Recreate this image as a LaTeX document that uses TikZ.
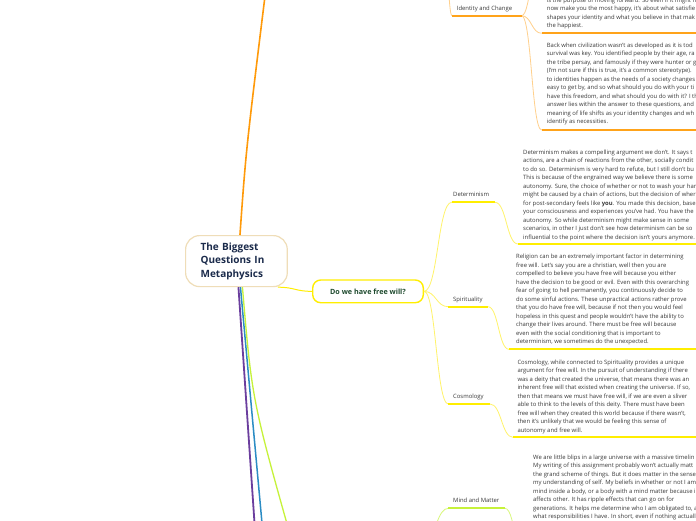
\documentclass[tikz,border=0pt]{standalone}
\usepackage{fontspec}
\setmainfont{Open Sans}
\usetikzlibrary{calc}
\definecolor{txt}{HTML}{3A3A3A}
\definecolor{navy}{HTML}{1B2B4B}
\definecolor{fwtxt}{HTML}{1E4A2E}
\definecolor{cbord}{HTML}{EFDDB8}
\definecolor{orgm}{HTML}{FF9A0A}
\definecolor{orgu}{HTML}{FFA31A}
\definecolor{orgc}{HTML}{FFD08C}
\definecolor{yelm}{HTML}{FFEE00}
\definecolor{yelc}{HTML}{FFF36A}
\definecolor{limem}{HTML}{C6F23A}
\definecolor{limec}{HTML}{D9F77E}
\definecolor{purp}{HTML}{6B3E9E}
\definecolor{blu}{HTML}{2B8CC4}
\newcommand{\blk}[1]{\vtop{\fontsize{5.9}{8.5}\selectfont\halign{##\hfil\cr#1\crcr}}}
\tikzset{
  sc/.style={to path={.. controls ($(\tikztostart)!0.5!(\tikztostart -| \tikztotarget)$) and ($(\tikztotarget)!0.5!(\tikztotarget -| \tikztostart)$) .. (\tikztotarget)}},
  tb/.style={anchor=base west, inner sep=0pt, text=txt},
  lab/.style={anchor=base west, inner sep=0pt, text=txt, font=\fontsize{5.9}{7}\selectfont},
  ocon/.style={draw=orgc, line width=0.8pt},
  oul/.style={draw=orgu, line width=1.8pt},
  ycon/.style={draw=yelc, line width=0.8pt},
  yul/.style={draw=yelm, line width=1.8pt},
  gcon/.style={draw=limec, line width=0.8pt},
  gul/.style={draw=limem, line width=1.8pt}
}
\begin{document}
\begin{tikzpicture}[x=1pt,y=-1pt]
\useasboundingbox (0,0) rectangle (696,520);
\fill[white] (0,0) rectangle (696,520);
\clip (0,0) rectangle (696,520);

% central node
\node[draw=cbord, line width=1.2pt, rounded corners=14pt, fill=white, anchor=north west,
  minimum width=101.7pt, minimum height=51pt, inner xsep=15pt, inner ysep=0pt,
  text width=71.7pt, align=left, text=navy, font=\bfseries\fontsize{10}{13.5}\selectfont]
  (c) at (185,235) {The Biggest\\Questions In\\Metaphysics};

% free will node
\node[draw=yelm, line width=1.4pt, rounded corners=8pt, fill=white, minimum width=110.6pt,
  minimum height=22.7pt, inner sep=0pt, text=fwtxt, font=\bfseries\fontsize{7.2}{8.6}\selectfont]
  (fw) at (368,291.35) {Do we have free will?};

% main branches
\coordinate (cN) at ([xshift=3.5pt]c.north);
\coordinate (oT) at (266,-12);
\draw[orgm, line width=1.6pt] (cN) .. controls (246,150) .. (oT);
\coordinate (pS) at ([xshift=2pt]c.south);
\coordinate (pE) at (256,545);
\draw[purp, line width=1.8pt] (pS) -- (pE);
\coordinate (bS) at ([xshift=4pt]c.south);
\coordinate (bE) at (264,545);
\draw[blu, line width=1.5pt] (bS) -- (bE);
\coordinate (gS) at ([xshift=6pt]c.south);
\coordinate (gE) at (293,545);
\draw[limem, line width=1.3pt] (gS) .. controls (252,400) .. (gE);
\coordinate (cY) at ([xshift=-10pt]c.south east);
\draw[yelm, line width=1pt] (cY) to[sc] (fw.west);

% ---------- Identity and Change ----------
\coordinate (idL) at (452,15.7);
\coordinate (idR) at (521.5,15.7);
\coordinate (idP) at (444,-60);
\coordinate (i0L) at (541.7,-60);
\coordinate (i1L) at (541.7,33.3);
\coordinate (i1R) at (700,33.3);
\coordinate (i2L) at (541.7,130);
\coordinate (i2R) at (700,130);
\draw[ocon] (idP) to[sc] (idL);
\draw[ocon] (idR) to[sc] (i0L);
\draw[ocon] (idR) to[sc] (i1L);
\draw[ocon] (idR) to[sc] (i2L);
\draw[oul] (idL) -- (idR);
\draw[oul] (i1L) -- (i1R);
\draw[oul] (i2L) -- (i2R);
\node[lab] (idlab) at (456.7,10.6) {Identity and Change};
\node[tb] (i1) at (546.7,2.05) {\blk{is the purpose of moving forward. So even if it might n\cr
now make you the most happy, it's about what satisfie\cr
shapes your identity and what you believe in that mak\cr
the happiest.}};
\node[tb] (i2) at (546.7,47) {\blk{Back when civilization wasn't as developed as it is tod\cr
survival was key. You identified people by their age, ra\cr
the tribe persay, and famously if they were hunter or g\cr
(I'm not sure if this is true, it's a common stereotype).\cr
to identities happen as the needs of a society changes\cr
easy to get by, and so what should you do with your ti\cr
have this freedom, and what should you do with it? I th\cr
answer lies within the answer to these questions, and\cr
meaning of life shifts as your identity changes and wh\cr
identify as necessities.}};

% ---------- Free will children ----------
\coordinate (detL) at (451.7,202.3);
\coordinate (detR) at (495,202.3);
\coordinate (spL) at (448.3,306.7);
\coordinate (spR) at (488,306.7);
\coordinate (coL) at (448.3,404);
\coordinate (coR) at (490,404);
\draw[ycon] (fw.east) to[sc] (detL);
\draw[ycon] (fw.east) to[sc] (spL);
\draw[ycon] (fw.east) to[sc] (coL);
\draw[yul] (detL) -- (detR);
\draw[yul] (spL) -- (spR);
\draw[yul] (coL) -- (coR);
\node[lab] (detlab) at (453,196.1) {Determinism};
\node[lab] (splab) at (453,301.6) {Spirituality};
\node[lab] (colab) at (453,398.3) {Cosmology};

\coordinate (dtL) at (518,244);
\coordinate (dtR) at (700,244);
\coordinate (stL) at (509,349.3);
\coordinate (stR) at (700,349.3);
\coordinate (ctL) at (513,437.3);
\coordinate (ctR) at (700,437.3);
\draw[ycon] (detR) to[sc] (dtL);
\draw[ycon] (spR) to[sc] (stL);
\draw[ycon] (coR) to[sc] (ctL);
\draw[yul] (dtL) -- (dtR);
\draw[yul] (stL) -- (stR);
\draw[yul] (ctL) -- (ctR);

\node[tb] (dt) at (523,154.3) {\blk{Determinism makes a compelling argument we don't. It says t\cr
actions, are a chain of reactions from the other, socially condit\cr
to do so. Determinism is very hard to refute, but I still don't bu\cr
This is because of the engrained way we believe there is some\cr
autonomy. Sure, the choice of whether or not to wash your har\cr
might be caused by a chain of actions, but the decision of wher\cr
for post-secondary feels like \textbf{you}. You made this decision, base\cr
your consciousness and experiences you've had. You have the\cr
autonomy. So while determinism might make sense in some\cr
scenarios, in other I just don't see how determinism can be so\cr
influential to the point where the decision isn't yours anymore.}};

\node[tb] (st) at (516,258.9) {\blk{Religion can be an extremely important factor in determining\cr
free will. Let's say you are a christian, well then you are\cr
compelled to believe you have free will because you either\cr
have the decision to be good or evil. Even with this overarching\cr
fear of going to hell permanently, you continuously decide to\cr
do some sinful actions. These unpractical actions rather prove\cr
that you do have free will, because if not then you would feel\cr
hopeless in this quest and people wouldn't have the ability to\cr
change their lives around. There must be free will because\cr
even with the social conditioning that is important to\cr
determinism, we sometimes do the unexpected.}};

\node[tb] (ct) at (517.3,364.3) {\blk{Cosmology, while connected to Spirituality provides a unique\cr
argument for free will. In the pursuit of understanding if there\cr
was a deity that created the universe, that means there was an\cr
inherent free will that existed when creating the universe. If so,\cr
then that means we must have free will, if we are even a sliver\cr
able to think to the levels of this deity. There must have been\cr
free will when they created this world because if there wasn't,\cr
then it's unlikely that we would be feeling this sense of\cr
autonomy and free will.}};

% ---------- Mind and Matter ----------
\coordinate (mmL) at (448.3,508.3);
\coordinate (mmR) at (505,508.3);
\coordinate (mmP) at (410,600);
\coordinate (mtL) at (528,580);
\draw[gcon] (mmP) to[sc] (mmL);
\draw[gcon] (mmR) to[sc] (mtL);
\draw[gul] (mmL) -- (mmR);
\node[lab] (mmlab) at (453,502.3) {Mind and Matter};
\node[tb] (mt) at (533,459) {\blk{We are little blips in a large universe with a massive timelin\cr
My writing of this assignment probably won't actually matt\cr
the grand scheme of things. But it does matter in the sense\cr
my understanding of self. My beliefs in whether or not I am\cr
mind inside a body, or a body with a mind matter because i\cr
affects other. It has ripple effects that can go on for\cr
generations. It helps me determine who I am obligated to, a\cr
what responsibilities I have. In short, even if nothing actuall}};
\end{tikzpicture}
\end{document}
